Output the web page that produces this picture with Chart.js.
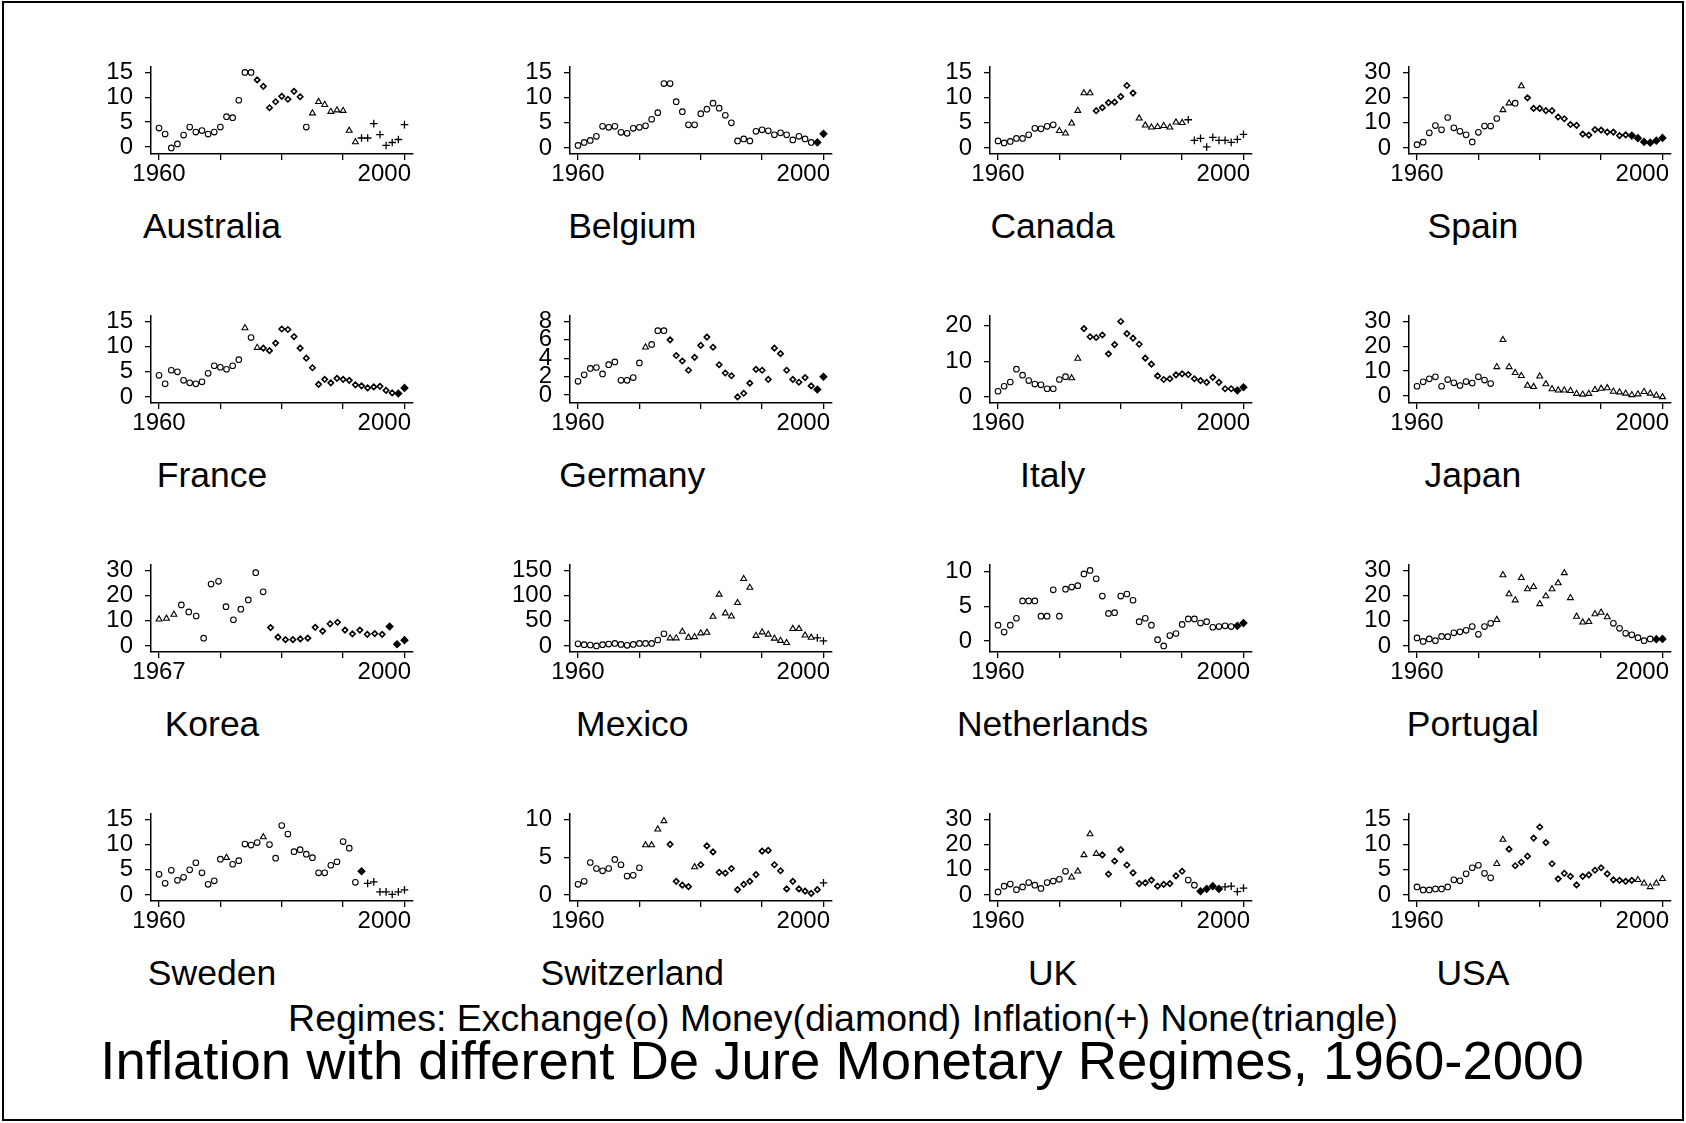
<!DOCTYPE html>
<html>
<head>
<meta charset="utf-8">
<script src="https://cdn.jsdelivr.net/npm/chart.js@4.4.1/dist/chart.umd.min.js"></script>
<style>
  body { margin: 0; background: #fff; font-family: "Liberation Sans", Arial, sans-serif; }
  #page { position: relative; width: 1686px; height: 1123px; overflow: hidden; background: #fff; }
  #frame { position: absolute; left: 2px; top: 1px; width: 1678px; height: 1116px; border: 2px solid #000; }
  canvas { position: absolute; }
  .lbl { position: absolute; transform: translate(-50%, -50%); white-space: nowrap; color: #000; }
</style>
</head>
<body>
<div id="page"><div id="frame"></div></div>
<script>
// panel order: row by row
const countries = ['Australia', 'Belgium', 'Canada', 'Spain',
                   'France', 'Germany', 'Italy', 'Japan',
                   'Korea', 'Mexico', 'Netherlands', 'Portugal',
                   'Sweden', 'Switzerland', 'UK', 'USA'];
const firstYear = [1960, 1960, 1960, 1960, 1960, 1960, 1960, 1960,
                   1967, 1960, 1960, 1960, 1960, 1960, 1960, 1960];
const lastYear = 2000;

// annual inflation, % (first year .. 2000)
const australia   = [3.8,2.6,-0.2,0.6,2.4,4.0,3.0,3.3,2.6,3.0, 4.0,6.1,5.9,9.4,15.0,15.0,13.5,12.2,7.9,9.1, 10.2,9.6,11.2,10.1,4.0,6.8,9.1,8.5,7.1,7.4, 7.3,3.3,1.0,1.8,1.8,4.7,2.5,0.3,0.9,1.5,4.5];
const belgium     = [0.5,1.1,1.5,2.3,4.3,4.1,4.3,3.1,2.9,3.9, 4.1,4.4,5.7,7.0,12.8,12.8,9.2,7.2,4.6,4.6, 6.8,7.7,8.9,7.9,6.5,5.0,1.4,1.8,1.4,3.3, 3.6,3.4,2.6,3.0,2.6,1.6,2.3,1.8,1.1,1.1,2.8];
const canada      = [1.4,1.0,1.3,1.9,1.9,2.6,3.9,3.8,4.3,4.6, 3.4,2.9,4.9,7.4,10.9,10.9,7.4,8.0,9.0,9.1, 10.2,12.4,10.9,5.9,4.5,4.1,4.2,4.4,4.1,5.1, 5.0,5.6,1.5,1.9,0.2,2.1,1.5,1.5,1.1,1.7,2.7];
const spain       = [1.3,2.3,6.0,8.9,7.2,12.1,8.0,6.6,5.2,2.4, 6.2,8.7,8.7,11.7,15.1,17.8,17.8,24.6,19.9,15.7, 15.7,14.8,14.8,12.3,11.6,9.3,9.0,5.5,5.1,7.3, 7.1,6.3,6.3,4.9,5.2,4.9,3.9,2.4,2.1,2.9,4.0];
const france      = [4.3,2.6,5.3,5.0,3.3,2.8,2.6,3.0,4.7,6.2, 5.9,5.5,6.2,7.4,13.7,11.8,9.8,9.7,9.2,10.7, 13.5,13.4,12.0,9.7,7.7,5.8,2.5,3.5,2.8,3.7, 3.5,3.3,2.4,2.2,1.8,2.0,2.1,1.3,0.8,0.7,1.8];
const germany     = [1.5,2.2,2.9,3.0,2.3,3.3,3.6,1.6,1.6,1.9, 3.5,5.2,5.5,7.0,7.0,6.0,4.3,3.7,2.7,4.1, 5.4,6.3,5.2,3.3,2.4,2.1,-0.2,0.2,1.3,2.8, 2.7,1.7,5.1,4.5,2.7,1.7,1.4,1.9,1.0,0.6,2.0];
const italy       = [1.6,3.0,4.2,7.8,6.1,4.6,3.6,3.4,2.3,2.3, 4.9,5.7,5.3,10.8,19.2,16.9,16.7,17.4,12.1,14.7, 21.2,17.8,16.5,14.8,10.9,9.2,5.9,4.9,5.1,6.2, 6.5,6.3,5.1,4.6,4.1,5.5,4.1,2.3,2.3,1.8,2.7];
const japan       = [3.9,5.7,6.9,7.7,3.9,6.6,5.3,4.2,5.8,5.2, 7.7,6.4,5.0,11.7,22.6,11.7,9.3,8.1,4.2,3.7, 7.9,4.8,2.8,2.3,2.3,2.1,0.9,0.6,0.9,2.5, 3.0,3.2,1.8,1.5,1.0,0.4,0.7,1.7,1.0,0.2,-0.4];
const korea       = [10.6,10.9,12.5, 16.3,13.5,11.9,3.1,24.6,25.7,15.6,10.4,14.6,18.3, 29.1,21.5,7.3,3.5,2.5,2.5,2.8,3.1,7.4,5.9, 8.8,9.4,6.3,4.8,6.3,4.6,4.9,4.6,7.7,0.7,2.3];
const mexico      = [4.3,2.5,1.9,0.0,2.5,3.7,5.0,3.1,1.2,3.1, 5.0,5.0,5.0,11.8,24.2,15.5,15.5,28.5,16.7,18.0, 25.4,26.7,58.3,102.3,65.1,58.9,85.6,133.3,115.9,20.5, 27.3,22.9,14.9,10.5,6.2,34.1,34.1,21.1,16.7,16.1,9.9];
const netherlands = [2.3,1.3,2.3,3.3,5.8,5.8,5.8,3.6,3.6,7.4, 3.6,7.5,7.8,8.0,9.7,10.2,9.0,6.5,4.0,4.1, 6.5,6.8,5.9,2.8,3.3,2.3,0.2,-0.7,0.8,1.1, 2.4,3.2,3.2,2.6,2.8,2.0,2.1,2.2,2.1,2.2,2.6];
const portugal    = [3.2,1.8,2.8,2.1,3.8,3.7,5.2,5.6,6.2,7.7, 4.6,7.7,9.0,10.4,28.2,20.6,18.2,27.1,22.6,23.5, 16.7,19.8,22.6,25.0,29.0,19.1,11.7,9.4,9.6,12.7, 13.3,11.5,9.0,7.0,5.0,4.4,3.3,2.1,2.8,2.7,2.8];
const sweden      = [4.1,2.3,4.9,2.9,3.5,5.0,6.4,4.4,2.1,2.8, 7.1,7.4,6.1,6.8,10.1,9.9,10.4,11.5,10.0,7.3, 13.8,12.1,8.6,9.0,8.1,7.4,4.4,4.4,5.9,6.6, 10.6,9.3,2.5,4.7,2.3,2.6,0.6,0.6,0.1,0.6,1.0];
const switzerland = [1.4,1.8,4.3,3.5,3.2,3.5,4.7,4.0,2.5,2.6, 3.6,6.6,6.6,8.7,9.8,6.7,1.8,1.3,1.1,3.7, 4.0,6.5,5.7,3.0,2.9,3.5,0.7,1.4,1.8,2.7, 5.8,5.9,4.0,3.2,0.8,1.8,0.8,0.5,0.2,0.7,1.6];
const uk          = [1.2,3.5,4.3,2.1,3.2,4.9,3.9,2.6,4.9,5.5, 6.2,9.4,7.0,9.4,15.9,24.2,16.4,15.9,8.3,13.5, 18.0,11.9,8.8,4.5,4.8,5.9,3.5,4.2,4.5,7.6, 9.4,5.9,3.9,1.5,2.4,3.5,2.4,3.2,3.5,1.3,2.7];
const usa         = [1.6,1.0,1.0,1.2,1.2,1.6,3.0,2.8,4.2,5.4, 5.9,4.3,3.4,6.2,11.0,9.1,5.8,6.5,7.7,11.3, 13.5,10.4,6.2,3.2,4.3,3.7,2.0,3.7,4.0,4.9, 5.4,4.2,3.0,2.9,2.7,2.9,3.0,2.3,1.6,2.3,3.2];
const series = [australia, belgium, canada, spain, france, germany, italy, japan,
                korea, mexico, netherlands, portugal, sweden, switzerland, uk, usa];

// regimes as runs: E exchange, M money, I inflation, N none, F money+inflation overlap
const regimes = [
  [['E',16],['M',8],['E',1],['N',8],['I',8]],
  [['E',39],['F',2]],
  [['E',10],['N',6],['M',7],['N',8],['I',10]],
  [['E',14],['N',2],['E',1],['N',1],['M',17],['F',6]],
  [['E',14],['N',1],['E',1],['N',1],['M',22],['F',2]],
  [['E',11],['N',1],['E',3],['M',24],['F',2]],
  [['E',12],['N',2],['M',25],['F',2]],
  [['E',13],['N',28]],
  [['N',3],['E',12],['M',16],['F',3]],
  [['E',15],['N',24],['I',2]],
  [['E',39],['F',2]],
  [['E',13],['N',19],['E',7],['F',2]],
  [['E',11],['N',1],['E',5],['N',1],['E',15],['F',1],['I',7]],
  [['E',11],['N',4],['M',4],['N',1],['M',20],['I',1]],
  [['E',12],['N',5],['M',14],['E',2],['F',4],['I',4]],
  [['E',13],['N',2],['M',21],['N',5]]
];

// y axis tick labels
const yTickTop  = [15, 15, 15, 30, 15, 8, 20, 30, 30, 150, 10, 30, 15, 10, 30, 15];
const yTickStep = [5, 5, 5, 10, 5, 2, 10, 10, 10, 50, 5, 10, 5, 5, 10, 5];

const page = document.getElementById('page');
const FONT = '"Liberation Sans", Arial, sans-serif';

function expand(runs) {
  const out = [];
  runs.forEach(([code, n]) => { for (let i = 0; i < n; i++) out.push(code); });
  return out;
}

const markStyle = {
  E: { style: 'circle',  radius: 2.8, width: 1.1, fill: '#fff' },
  M: { style: 'rectRot', radius: 2.7, width: 1.6, fill: '#fff' },
  N: { style: 'triangle',radius: 3.4, width: 1.1, fill: '#fff' },
  I: { style: 'cross',   radius: 3.8, width: 1.3, fill: '#fff' },
  F: { style: 'rectRot', radius: 3.3, width: 1.4, fill: '#000' }
};

function addLabel(text, cx, cy, size) {
  const d = document.createElement('div');
  d.className = 'lbl';
  d.style.left = cx + 'px';
  d.style.top = cy + 'px';
  d.style.fontSize = size + 'px';
  d.textContent = text;
  page.appendChild(d);
}

const PLOT_W = 262, PLOT_H = 94;

function drawPanel(k) {
  const c = k % 4, r = Math.floor(k / 4);
  const axisX = 151 + 419.3 * c;     // y axis line
  const axisY = 154 + 249 * r;       // x axis line
  const canvas = document.createElement('canvas');
  canvas.width = 60 + PLOT_W + 45;
  canvas.height = 20 + PLOT_H + 40;
  canvas.style.left = (axisX - 60) + 'px';
  canvas.style.top = (axisY - PLOT_H - 20) + 'px';
  page.appendChild(canvas);

  const vals = series[k];
  const y0 = firstYear[k];
  const codes = expand(regimes[k]);
  const pts = vals.map((v, i) => ({ x: y0 + i, y: v }));

  const lo = Math.min(0, ...vals);
  const hi = Math.max(yTickTop[k], ...vals);
  const unit = 81 / (hi - lo);
  const pxYear = 245 / (lastYear - y0);
  const xMin = y0 - 8 / pxYear, xMax = lastYear + 8.5 / pxYear;

  const yTicks = [];
  for (let v = 0; v <= yTickTop[k]; v += yTickStep[k]) yTicks.push(v);
  const xTicks = [0, 1, 2, 3, 4].map(i => y0 + i * (lastYear - y0) / 4);

  // the last year label sits flush with the right end of the axis
  const mctx = canvas.getContext('2d');
  mctx.font = '24px ' + FONT;
  const halfW = mctx.measureText(String(lastYear)).width / 2;
  const endLabelAt = xMax - (2 + halfW) * (xMax - xMin) / PLOT_W;

  const axisFont = { family: FONT, size: 24 };

  new Chart(canvas, {
    type: 'scatter',
    data: {
      datasets: [{
        data: pts,
        xAxisID: 'x',
        showLine: false,
        pointStyle: ctx => markStyle[codes[ctx.dataIndex]].style,
        pointRadius: ctx => markStyle[codes[ctx.dataIndex]].radius,
        pointBorderWidth: ctx => markStyle[codes[ctx.dataIndex]].width,
        pointBackgroundColor: ctx => markStyle[codes[ctx.dataIndex]].fill,
        pointBorderColor: '#000'
      }]
    },
    options: {
      responsive: false,
      animation: false,
      devicePixelRatio: 1,
      layout: { padding: { left: 0, top: 20, right: 45, bottom: 0 } },
      plugins: { legend: { display: false }, tooltip: { enabled: false } },
      scales: {
        x: {
          type: 'linear',
          position: 'bottom',
          weight: 0,
          min: xMin,
          max: xMax,
          afterFit: s => { s.height = 6; },
          afterBuildTicks: s => { s.ticks = xTicks.map(v => ({ value: v })); },
          ticks: { autoSkip: false, maxRotation: 0, callback: () => '' },
          grid: { drawOnChartArea: false, drawTicks: true, tickLength: 6, color: '#000', lineWidth: 1.3 },
          border: { display: true, color: '#000', width: 1.5 }
        },
        xl: {
          type: 'linear',
          position: 'bottom',
          weight: 1,
          min: xMin,
          max: xMax,
          afterFit: s => { s.height = 34; },
          afterBuildTicks: s => { s.ticks = [{ value: y0 }, { value: endLabelAt }]; },
          ticks: {
            autoSkip: false, maxRotation: 0, padding: 0, color: '#000', font: axisFont,
            callback: (v, i) => (i === 0 ? String(y0) : String(lastYear))
          },
          grid: { display: false, drawTicks: false },
          border: { display: false }
        },
        y: {
          type: 'linear',
          min: lo - 6.5 / unit,
          max: hi + 6.5 / unit,
          afterFit: s => { s.width = 60; },
          afterBuildTicks: s => { s.ticks = yTicks.map(v => ({ value: v })); },
          ticks: { autoSkip: false, padding: 12, color: '#000', font: axisFont },
          grid: { drawOnChartArea: false, drawTicks: true, tickLength: 6, color: '#000', lineWidth: 1.3 },
          border: { display: true, color: '#000', width: 1.5 }
        }
      }
    }
  });

  addLabel(countries[k], 212 + 420.3 * c, 226 + 249 * r, 35.5);
}

for (let k = 0; k < countries.length; k++) drawPanel(k);

addLabel('Regimes: Exchange(o) Money(diamond) Inflation(+) None(triangle)', 843, 1018, 37.5);
addLabel('Inflation with different De Jure Monetary Regimes, 1960-2000', 842, 1060, 54.5);
</script>
</body>
</html>
